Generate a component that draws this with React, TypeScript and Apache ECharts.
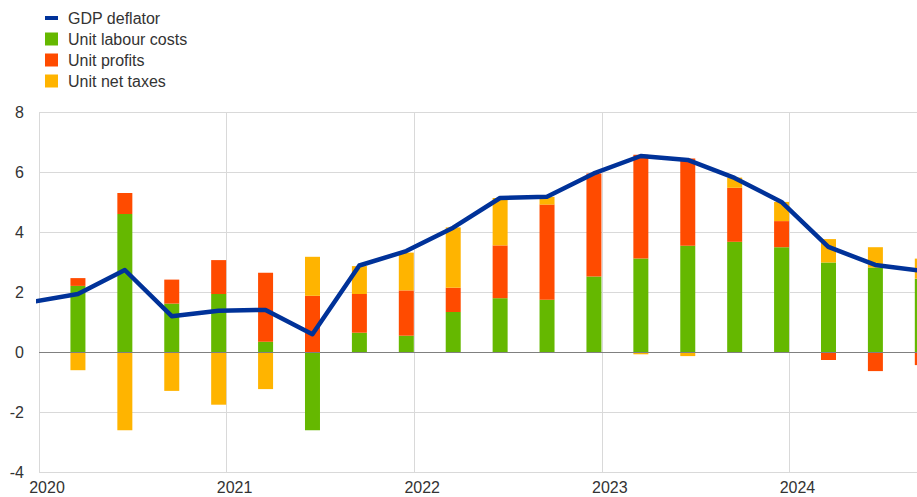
import React, { useEffect, useRef } from "react";
import * as echarts from "echarts";

// Quarters shown as bars (2020 Q1 .. 2024 Q3)
const QUARTERS = [
  "2020 Q1", "2020 Q2", "2020 Q3", "2020 Q4",
  "2021 Q1", "2021 Q2", "2021 Q3", "2021 Q4",
  "2022 Q1", "2022 Q2", "2022 Q3", "2022 Q4",
  "2023 Q1", "2023 Q2", "2023 Q3", "2023 Q4",
  "2024 Q1", "2024 Q2", "2024 Q3",
];
const UNIT_LABOUR_COSTS = [2.22, 4.62, 1.63, 1.95, 0.36, -2.59, 0.66, 0.56, 1.35, 1.81, 1.76, 2.53, 3.13, 3.56, 3.69, 3.51, 3.0, 2.83, 2.46];
const UNIT_PROFITS = [0.26, 0.7, 0.8, 1.13, 2.3, 1.89, 1.29, 1.51, 0.81, 1.76, 3.17, 3.44, 3.46, 2.91, 1.8, 0.87, -0.25, -0.62, -0.42];
const UNIT_NET_TAXES = [-0.59, -2.59, -1.28, -1.74, -1.22, 1.3, 0.93, 1.26, 2.01, 1.58, 0.26, 0.0, -0.06, -0.12, 0.34, 0.64, 0.78, 0.68, 0.67];
// GDP deflator: starts one quarter earlier (2019 Q4, clipped by the axis)
const GDP_QUARTERS = ["2019 Q4", ...QUARTERS];
const GDP_DEFLATOR = [1.68, 1.95, 2.75, 1.21, 1.39, 1.42, 0.61, 2.9, 3.38, 4.16, 5.15, 5.19, 5.97, 6.55, 6.42, 5.82, 5.02, 3.52, 2.92, 2.72];
const YEAR_LABELS = ["2020", "2021", "2022", "2023", "2024"];

// layout constants (positions only)
const PLOT_LEFT = 39;
const QUARTER_PX = 46.91;
const BAR_OFFSET = 0.83; // bar centre within quarter (quarter units)
const X_MAX = 18.72; // visible extent in quarters
const TOP = 112.5;
const BOTTOM = 24.5;

const FONT = "'Liberation Sans', Arial, Helvetica, sans-serif";
const TEXT_COLOR = "#333333";
const GRID_COLOR = "#d9d9d9";

export default function App() {
  const ref = useRef<HTMLDivElement>(null);

  useEffect(() => {
    document.body.style.margin = "0";
    if (!ref.current) return;
    const chart = echarts.init(ref.current, undefined, { renderer: "svg" });

    const gdpPoints = GDP_DEFLATOR.map((v, i) => [i - 1 + BAR_OFFSET, v]);

    const barSeries = (name: string, data: number[], color: string) => ({
      name,
      type: "bar",
      stack: "total",
      barWidth: 15,
      xAxisIndex: 1,
      yAxisIndex: 1,
      data,
      itemStyle: { color },
      z: 2,
    });

    chart.setOption({
      animation: false,
      textStyle: { fontFamily: FONT },
      grid: [
        { left: PLOT_LEFT, right: 0, top: TOP, bottom: BOTTOM, containLabel: false, outerBoundsMode: "none" },
        {
          left: PLOT_LEFT + (BAR_OFFSET - 0.5) * QUARTER_PX,
          width: QUARTERS.length * QUARTER_PX,
          top: TOP,
          bottom: BOTTOM,
          containLabel: false,
          outerBoundsMode: "none",
        },
      ],
      legend: {
        orient: "vertical",
        left: 40,
        top: 5,
        itemWidth: 13,
        itemHeight: 13,
        itemGap: 5,
        selectedMode: false,
        textStyle: { fontSize: 16, color: TEXT_COLOR, fontFamily: FONT, lineHeight: 16, padding: [0, 0, 0, 5] },
        data: [
          {
            name: "GDP deflator",
            icon: "path://M0,0h0.01v0.01h-0.01z M12.99,12.99h0.01v0.01h-0.01z M0,4.5h13v4h-13z",
            itemStyle: { color: "#003299", borderWidth: 0 },
          },
          { name: "Unit labour costs", icon: "rect", itemStyle: { color: "#65B800", borderWidth: 0 } },
          { name: "Unit profits", icon: "rect", itemStyle: { color: "#FF4B00", borderWidth: 0 } },
          { name: "Unit net taxes", icon: "rect", itemStyle: { color: "#FFB400", borderWidth: 0 } },
        ],
      },
      xAxis: [
        {
          type: "value",
          gridIndex: 0,
          min: 0,
          max: X_MAX,
          interval: 4,
          axisLine: { show: false },
          axisTick: { show: false },
          axisLabel: {
            fontSize: 16,
            lineHeight: 12,
            color: TEXT_COLOR,
            fontFamily: FONT,
            margin: 9,
            padding: [0, 0, 0, 16],
            showMaxLabel: false,
            formatter: (v: number) => {
              const idx = v / 4;
              return Number.isInteger(idx) && YEAR_LABELS[idx] ? YEAR_LABELS[idx] : "";
            },
          },
          splitLine: { show: true, showMaxLine: false, lineStyle: { color: GRID_COLOR, width: 1 } },
        },
        {
          type: "category",
          gridIndex: 1,
          data: QUARTERS,
          boundaryGap: true,
          show: false,
        },
      ],
      yAxis: [
        {
          type: "value",
          gridIndex: 0,
          min: -4,
          max: 8,
          interval: 2,
          axisLine: { show: false },
          axisTick: { show: false },
          axisLabel: { fontSize: 16, color: TEXT_COLOR, fontFamily: FONT, margin: 15 },
          splitLine: { show: true, lineStyle: { color: GRID_COLOR, width: 1 } },
        },
        {
          type: "value",
          gridIndex: 1,
          min: -4,
          max: 8,
          interval: 2,
          show: false,
          splitLine: { show: false },
        },
      ],
      series: [
        barSeries("Unit labour costs", UNIT_LABOUR_COSTS, "#65B800"),
        barSeries("Unit profits", UNIT_PROFITS, "#FF4B00"),
        barSeries("Unit net taxes", UNIT_NET_TAXES, "#FFB400"),
        {
          name: "GDP deflator",
          type: "line",
          xAxisIndex: 0,
          yAxisIndex: 0,
          data: gdpPoints,
          symbol: "none",
          clip: true,
          color: "#003299",
          lineStyle: { color: "#003299", width: 4.5, join: "round" },
          z: 4,
          markLine: {
            silent: true,
            symbol: ["none", "none"],
            label: { show: false },
            lineStyle: { color: "#808080", width: 1, type: "solid" },
            data: [{ yAxis: 0 }],
          },
        },
      ],
    });

    return () => chart.dispose();
  }, []);

  return <div ref={ref} style={{ width: 917, height: 497 }} />;
}

// keep quarter names referenced for clarity
void GDP_QUARTERS;
